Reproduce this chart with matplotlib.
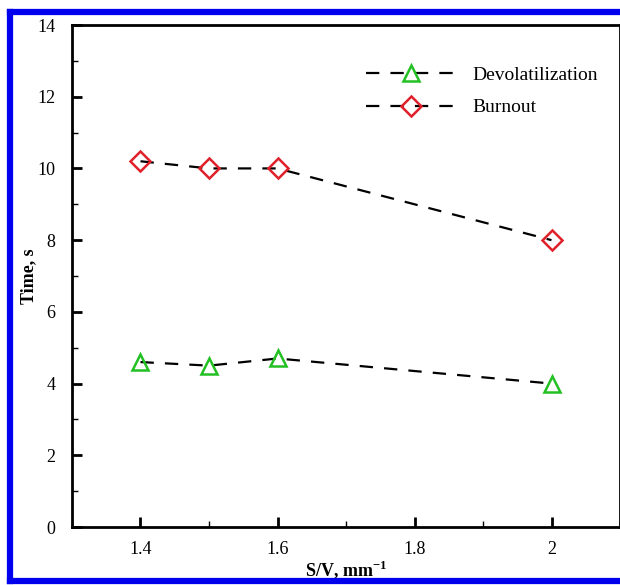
import matplotlib.pyplot as plt
from matplotlib.lines import Line2D
from matplotlib.ticker import MultipleLocator

plt.rcParams['font.family'] = ['Liberation Serif', 'DejaVu Serif']

## Datos
sv = [1.4, 1.5, 1.6, 2.0]
devol = [4.6, 4.5, 4.7, 4.0]
burnout = [10.2, 10.0, 10.0, 8.0]

fig = plt.figure(figsize=(6.2, 5.85), dpi=100)
ax = fig.add_axes([72/620, 1 - 527/585, 548/620, 502/585])

ax.plot(sv, devol, color='black', linestyle=(0, (6, 5)), linewidth=1.6,
        marker='^', markersize=11, markerfacecolor='none',
        markeredgecolor='#22c022', markeredgewidth=1.8, label='Devolatilization')
ax.plot(sv, burnout, color='black', linestyle=(0, (6, 5)), linewidth=1.6,
        marker='D', markersize=10, markerfacecolor='none',
        markeredgecolor='#e0202a', markeredgewidth=1.8, label='Burnout')

ax.set_xlim(1.3, 2.1)
ax.set_ylim(0, 14)
ax.set_xticks([1.4, 1.6, 1.8, 2.0])
ax.set_xticklabels(['1.4', '1.6', '1.8', '2'])
ax.xaxis.set_minor_locator(MultipleLocator(0.1))
ax.yaxis.set_major_locator(MultipleLocator(2))
ax.yaxis.set_minor_locator(MultipleLocator(1))
ax.tick_params(which='major', direction='in', length=7, width=2, labelsize=13)
ax.tick_params(axis='y', which='major', pad=12)
ax.tick_params(axis='x', which='major', pad=10)
ax.tick_params(which='minor', direction='in', length=4, width=1)
for s in ax.spines.values():
    s.set_linewidth(2)

ax.set_xlabel('S/V, mm$^{\\mathregular{-1}}$', fontsize=13, fontweight='bold', labelpad=0)
ax.set_ylabel('Time, s', fontsize=13, fontweight='bold', labelpad=0)

ax.legend(loc='upper left', bbox_to_anchor=(0.505, 0.952), frameon=False,
          fontsize=14, handlelength=4.6, handletextpad=0.85, labelspacing=0.75)

# marco azul
blue = '#0000ee'
fig.add_artist(Line2D([10/620, 10/620], [1 - 581/585, 1 - 12/585], color=blue, lw=4.5))
fig.add_artist(Line2D([10/620, 1], [1 - 12/585, 1 - 12/585], color=blue, lw=4.5))
fig.add_artist(Line2D([10/620, 1], [1 - 581/585, 1 - 581/585], color=blue, lw=4.5))

fig.savefig('out.png', dpi=100)
